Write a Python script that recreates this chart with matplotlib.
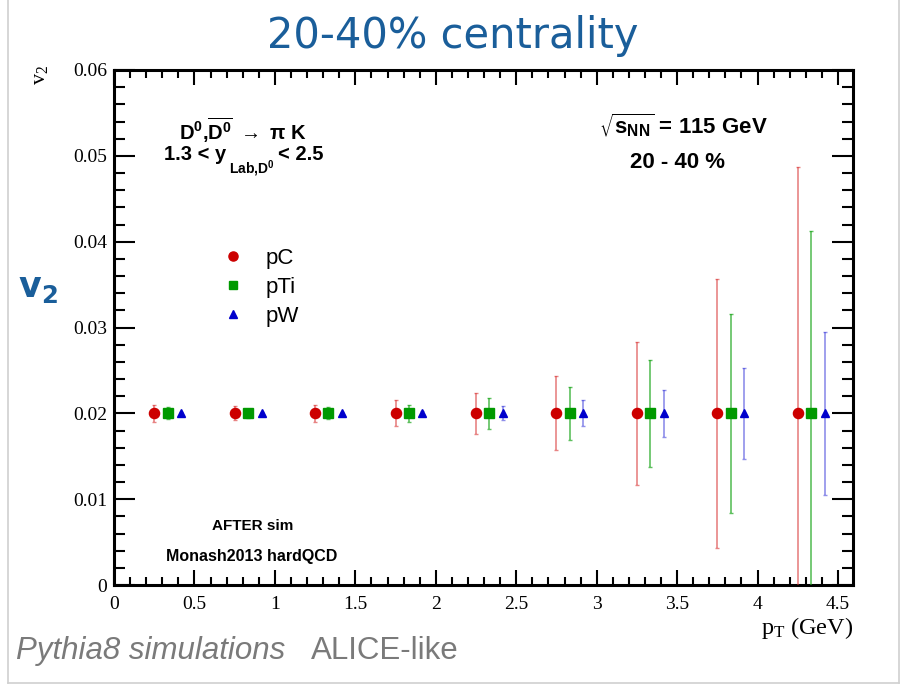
import matplotlib
matplotlib.use("Agg")
import matplotlib.pyplot as plt
from matplotlib.ticker import MultipleLocator, FixedLocator
from matplotlib.lines import Line2D

plt.rcParams['mathtext.default'] = 'regular'

# ---------------- data ----------------
pt_pC = [0.25, 0.75, 1.25, 1.75, 2.25, 2.75, 3.25, 3.75, 4.25]
pt_pTi = [0.333, 0.833, 1.333, 1.833, 2.333, 2.833, 3.333, 3.833, 4.333]
pt_pW = [0.417, 0.917, 1.417, 1.917, 2.417, 2.917, 3.417, 3.917, 4.417]

v2_pC = [0.02, 0.02, 0.02, 0.02, 0.02, 0.02, 0.02, 0.02, 0.02]
v2_pTi = [0.02, 0.02, 0.02, 0.02, 0.02, 0.02, 0.02, 0.02, 0.02]
v2_pW = [0.02, 0.02, 0.02, 0.02, 0.02, 0.02, 0.02, 0.02, 0.02]

err_pC = [0.0010, 0.0008, 0.0010, 0.0015, 0.0024, 0.0043, 0.0083, 0.0157, 0.0287]
err_pTi = [0.0007, 0.0005, 0.0007, 0.0010, 0.0018, 0.0031, 0.0062, 0.0116, 0.0213]
err_pW = [0.0002, 0.0002, 0.0002, 0.0003, 0.0008, 0.0015, 0.0027, 0.0053, 0.0095]

series_names = ["pC", "pTi", "pW"]

x_ticks = [0, 0.5, 1, 1.5, 2, 2.5, 3, 3.5, 4, 4.5]
x_ticklabels = ["0", "0.5", "1", "1.5", "2", "2.5", "3", "3.5", "4", "4.5"]
y_ticks = [0, 0.01, 0.02, 0.03, 0.04, 0.05, 0.06]
y_ticklabels = ["0", "0.01", "0.02", "0.03", "0.04", "0.05", "0.06"]

# ---------------- figure ----------------
W, H = 902, 686
fig = plt.figure(figsize=(W / 100, H / 100), dpi=100)

def fx(px):
    return px / W

def fy(py):
    return 1 - py / H

ax = fig.add_axes([fx(114), fy(585), fx(853) - fx(114), fy(70) - fy(585)])

red = '#cc0000'
green = '#009900'
blue = '#0000cc'

eb1 = ax.errorbar(pt_pC, v2_pC, yerr=err_pC, fmt='o', color=red, ms=7.3,
                  ecolor=(0.85, 0.2, 0.2, 0.6), elinewidth=1.2, capsize=1.2,
                  capthick=1, zorder=3)
eb2 = ax.errorbar(pt_pTi, v2_pTi, yerr=err_pTi, fmt='s', color=green, ms=6.7,
                  ecolor=(0.1, 0.65, 0.1, 0.7), elinewidth=1.2, capsize=1.2,
                  capthick=1, zorder=3)
eb3 = ax.errorbar(pt_pW, v2_pW, yerr=err_pW, fmt='^', color=blue, ms=6.2,
                  ecolor=(0.2, 0.2, 0.85, 0.55), elinewidth=1.2, capsize=1.2,
                  capthick=1, zorder=3)

ax.set_xlim(0, 4.593)
ax.set_ylim(0, 0.06)

ax.xaxis.set_major_locator(FixedLocator(x_ticks))
ax.set_xticklabels(x_ticklabels)
ax.xaxis.set_minor_locator(MultipleLocator(0.1))
ax.yaxis.set_major_locator(FixedLocator(y_ticks))
ax.set_yticklabels(y_ticklabels)
ax.yaxis.set_minor_locator(MultipleLocator(0.002))

for lab in ax.get_xticklabels() + ax.get_yticklabels():
    lab.set_fontfamily('Liberation Serif')
    lab.set_fontsize(14)

ax.tick_params(axis='both', which='both', direction='in', top=True, right=True,
               width=1.5, color='black')
ax.tick_params(axis='x', which='major', length=11, pad=8)
ax.tick_params(axis='x', which='minor', length=5.5)
ax.tick_params(axis='y', which='major', length=15, pad=5)
ax.tick_params(axis='y', which='minor', length=8)
for sp in ax.spines.values():
    sp.set_linewidth(2.2)

# axis titles (ROOT style)
fig.text(fx(853), fy(628), 'p$_T$ (GeV)', family='Liberation Serif', fontsize=17.5,
         ha='right', va='center')
fig.text(fx(41), fy(75), 'v$_2$', family='Liberation Serif', fontsize=16,
         rotation=90, ha='center', va='center')

# legend
leg = ax.legend(handles=[eb1[0], eb2[0], eb3[0]], labels=series_names,
                loc='upper left', bbox_to_anchor=(fx(211), fy(237)),
                bbox_transform=fig.transFigure, frameon=False,
                prop={'family': 'Liberation Sans', 'size': 16},
                handlelength=1.0, handletextpad=0.95, labelspacing=0.36,
                markerscale=0.9, borderpad=0)

# annotations
bold = dict(family='Liberation Sans', weight='bold', color='black')
fig.text(fx(243), fy(130), 'D$^0$,$\\overline{D^0}$ $\\rightarrow$ \u03c0 K', fontsize=14.5,
         ha='center', va='center', **bold)
fig.text(fx(164), fy(155), '1.3 < y', fontsize=14.5, ha='left', va='center', **bold)
fig.text(fx(229), fy(169), 'Lab,D$^0$', fontsize=10, ha='left', va='center', **bold)
fig.text(fx(278), fy(155), '< 2.5', fontsize=14.5, ha='left', va='center', **bold)
fig.text(fx(683), fy(125), '$\\sqrt{s_{NN}}$ = 115 GeV', fontsize=16,
         ha='center', va='center', **bold)
fig.text(fx(677), fy(162), '20 - 40 %', fontsize=16,
         ha='center', va='center', **bold)
fig.text(fx(253), fy(526), 'AFTER sim', fontsize=11,
         ha='center', va='center', **bold)
fig.text(fx(252), fy(556), 'Monash2013 hardQCD', fontsize=11.5,
         ha='center', va='center', **bold)

# slide decorations
title_color = '#1a5e9a'
fig.text(fx(453), fy(36), '20-40% centrality', family='DejaVu Sans', fontsize=30,
         color=title_color, ha='center', va='center')
fig.text(fx(38), fy(288), 'v$_2$', family='DejaVu Sans', weight='bold', fontsize=25,
         color=title_color, ha='center', va='center')
fig.text(fx(16), fy(651), 'Pythia8 simulations', family='Liberation Sans',
         style='italic', fontsize=22.5, color='#7a7a7a', ha='left', va='center')
fig.text(fx(311), fy(651), 'ALICE-like', family='Liberation Sans',
         fontsize=22.5, color='#7a7a7a', ha='left', va='center')

frame_c = '#d0d0d0'
fig.add_artist(Line2D([fx(8), fx(8)], [fy(0), fy(683)], color=frame_c, lw=1.2))
fig.add_artist(Line2D([fx(8), fx(899)], [fy(683), fy(683)], color=frame_c, lw=1.2))
fig.add_artist(Line2D([fx(899), fx(899)], [fy(0), fy(683)], color=frame_c, lw=1.2))

fig.savefig('out.png', dpi=100)
